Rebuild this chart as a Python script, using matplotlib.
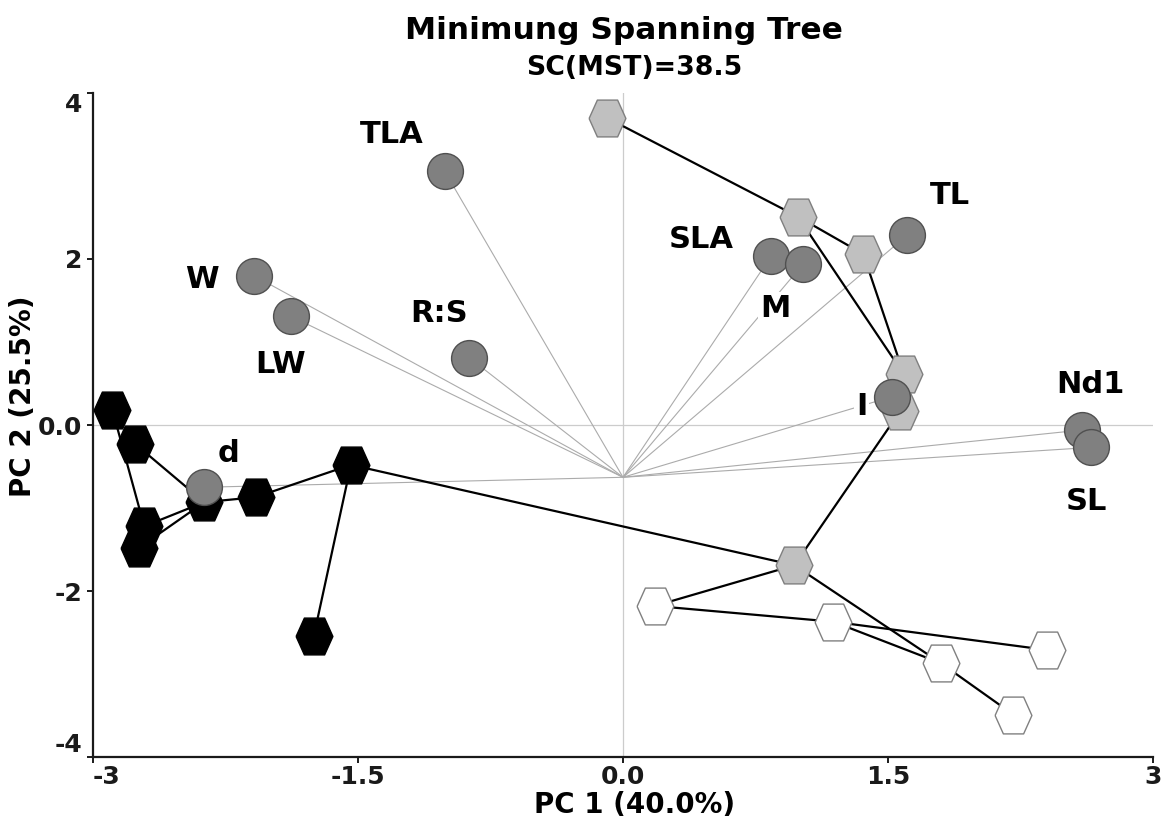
import matplotlib
matplotlib.use("Agg")
import matplotlib.pyplot as plt
import numpy as np

# ---------------- data ----------------
var_names = ["TLA", "W", "LW", "R:S", "d", "SLA", "M", "TL", "I", "Nd1", "SL"]
var_pc1 = [-1.01, -2.09, -1.88, -0.87, -2.37, 0.84, 1.02, 1.61, 1.52, 2.60, 2.65]
var_pc2 = [3.06, 1.80, 1.31, 0.81, -0.75, 2.04, 1.94, 2.29, 0.34, -0.06, -0.27]
loading_origin = (0.0, -0.63)

sample_pc1 = [-2.89, -2.76, -2.71, -2.74, -2.37, -2.08, -1.54, -1.75,
              -0.09, 0.99, 1.36, 1.59, 1.57, 0.97,
              0.18, 1.19, 1.80, 2.40, 2.21]
sample_pc2 = [0.18, -0.23, -1.22, -1.48, -0.93, -0.87, -0.48, -2.54,
              3.70, 2.51, 2.06, 0.61, 0.17, -1.69,
              -2.18, -2.37, -2.87, -2.71, -3.49]
sample_group = ["black"] * 8 + ["grey"] * 6 + ["white"] * 5

mst_edges = [(0, 2), (1, 4), (2, 4), (3, 4), (4, 5), (5, 6), (6, 7), (6, 13),
             (8, 9), (9, 10), (9, 11), (10, 11), (11, 12), (12, 13),
             (13, 14), (14, 15), (15, 17), (15, 16), (13, 16), (16, 18)]

x_ticks = [-3, -1.5, 0, 1.5, 3]
x_ticklabels = ["-3", "-1.5", "0.0", "1.5", "3"]
y_ticks = [-4, -2, 0, 2, 4]
y_ticklabels = ["-4", "-2", "0.0", "2", "4"]

title = "Minimung Spanning Tree"
subtitle = "SC(MST)=38.5"
xlabel = "PC 1 (40.0%)"
ylabel = "PC 2 (25.5%)"

# label offsets in pixels (dx right, dy up) -> layout only
label_offsets = [(-53, 28), (-52, -12), (-10, -57), (-30, 36), (24, 25), (-70, 8),
                 (-28, -53), (43, 31), (-30, -18), (8, 37), (-5, -63)]

# ---------------- styles ----------------
group_style = {
    "black": dict(mfc="#000000", mec="#000000"),
    "grey": dict(mfc="#c0c0c0", mec="#7f7f7f"),
    "white": dict(mfc="#ffffff", mec="#808080"),
}
hex_verts = [(-1, 0), (-0.55, 1), (0.55, 1), (1, 0), (0.55, -1), (-0.55, -1), (-1, 0)]

plt.rcParams["font.family"] = ["DejaVu Sans"]
plt.rcParams["font.weight"] = "bold"

W, H = 1162, 822
fig = plt.figure(figsize=(W / 100, H / 100), dpi=100)
ax = fig.add_axes([93 / W, (H - 757) / H, (1153 - 93) / W, (757 - 93) / H])
ax.set_xlim(-3, 3)
ax.set_ylim(-4, 4)

# reference lines
ax.axhline(0, color="#cccccc", lw=0.9, zorder=1)
ax.axvline(0, color="#cccccc", lw=0.9, zorder=1)

# loading vectors
ox, oy = loading_origin
for vx, vy in zip(var_pc1, var_pc2):
    ax.plot([ox, vx], [oy, vy], color="#ababab", lw=0.8, zorder=2)

# MST edges
for a, b in mst_edges:
    ax.plot([sample_pc1[a], sample_pc1[b]], [sample_pc2[a], sample_pc2[b]],
            color="black", lw=1.6, zorder=4, solid_capstyle="round")

# sample hexagons
for grp in ["black", "grey", "white"]:
    xs = [x for x, g in zip(sample_pc1, sample_group) if g == grp]
    ys = [y for y, g in zip(sample_pc2, sample_group) if g == grp]
    ax.plot(xs, ys, linestyle="none", marker=hex_verts, ms=26.5, mew=1.0,
            zorder=5, **group_style[grp])

# variable circles
ax.plot(var_pc1, var_pc2, linestyle="none", marker="o", ms=25.8,
        mfc="#808080", mec="#505050", mew=1.0, zorder=6)

# variable labels
for name, vx, vy, (dx, dy) in zip(var_names, var_pc1, var_pc2, label_offsets):
    ax.annotate(name, (vx, vy), xytext=(dx, dy), textcoords="offset pixels",
                ha="center", va="baseline", fontsize=22, fontweight="bold",
                color="black", zorder=3,
                bbox=dict(boxstyle="square,pad=0.05", fc="white", ec="none"))

# axes styling
for s in ["top", "right"]:
    ax.spines[s].set_visible(False)
for s in ["left", "bottom"]:
    ax.spines[s].set_linewidth(1.6)
    ax.spines[s].set_color("#1a1a1a")

ax.set_xticks(x_ticks)
ax.set_xticklabels(x_ticklabels)
ax.set_yticks(y_ticks)
ax.set_yticklabels(y_ticklabels)
ax.tick_params(direction="out", length=4, width=1.4, labelsize=18, pad=2,
               colors="#1a1a1a")
ax.tick_params(axis="y", pad=4)
for t in ax.get_xticklabels():
    t.set_fontweight("bold")
for t in ax.get_yticklabels():
    t.set_fontweight("bold")
ax.get_xticklabels()[0].set_ha("left")
ax.get_yticklabels()[0].set_va("bottom")
ax.get_yticklabels()[-1].set_va("top")

# titles and axis labels
fig.text(624 / W, 1 - 39 / H, title, ha="center", va="baseline",
         fontsize=22.5, fontweight="bold")
fig.text(634 / W, 1 - 75 / H, subtitle, ha="center", va="baseline",
         fontsize=19.3, fontweight="bold")
fig.text(635 / W, 1 - 813 / H, xlabel, ha="center", va="baseline",
         fontsize=20, fontweight="bold")
fig.text(23 / W, 1 - 396 / H, ylabel, ha="center", va="center", rotation=90,
         fontsize=20, fontweight="bold")

fig.savefig("out.png", dpi=100, facecolor="white")
